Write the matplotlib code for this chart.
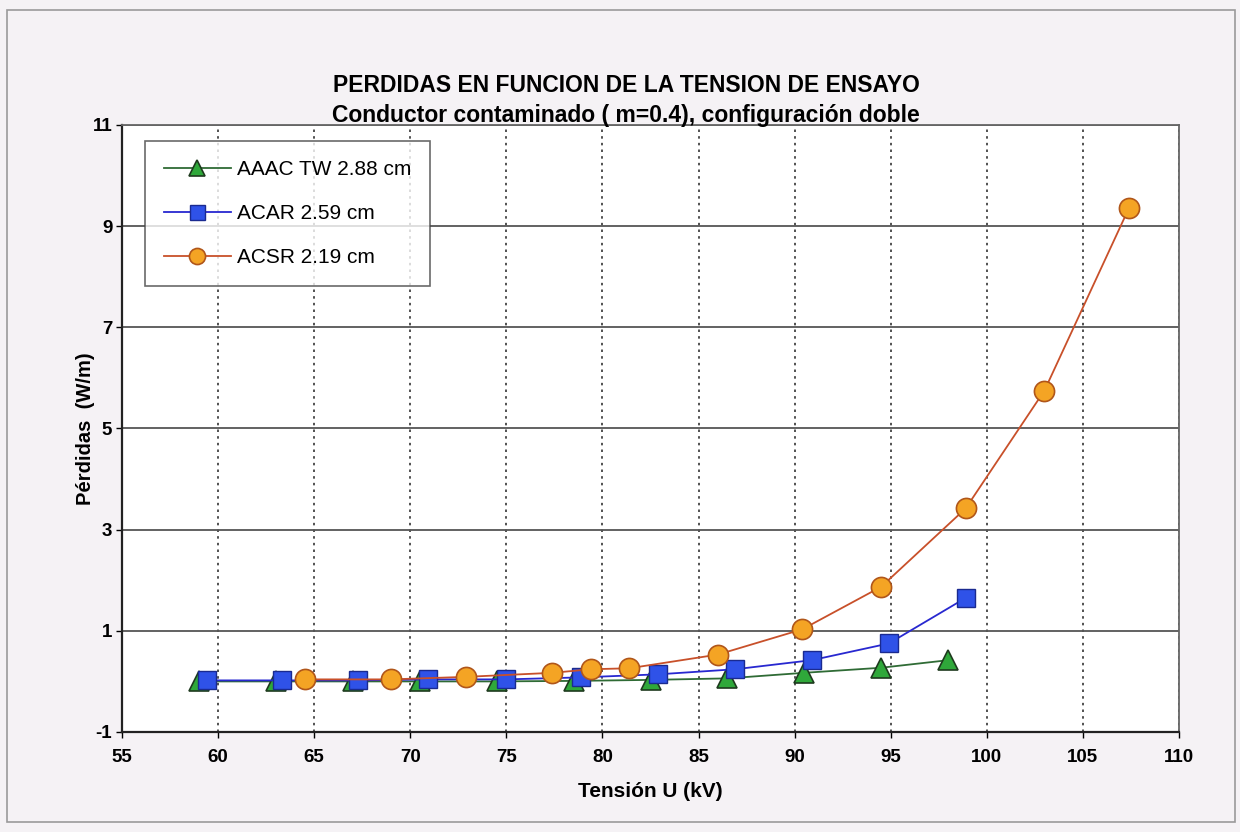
import matplotlib
matplotlib.use("Agg")
import matplotlib.pyplot as plt
from matplotlib.patches import Rectangle

plt.rcParams['font.family'] = ['Liberation Sans', 'DejaVu Sans']
plt.rcParams['axes.unicode_minus'] = False

# Pérdidas (W/m) vs tensión de ensayo (kV)
aaac_u = [59.0, 63.0, 67.0, 70.5, 74.5, 78.5, 82.5, 86.5, 90.5, 94.5, 98.0]
aaac_p = [0.0, 0.0, 0.0, 0.0, 0.0, 0.01, 0.03, 0.06, 0.17, 0.27, 0.42]

acar_u = [59.4, 63.3, 67.3, 70.9, 75.0, 78.9, 82.9, 86.9, 90.9, 94.9, 98.9]
acar_p = [0.02, 0.02, 0.02, 0.04, 0.04, 0.08, 0.14, 0.24, 0.42, 0.75, 1.65]

acsr_u = [64.5, 69.0, 72.9, 77.4, 79.4, 81.4, 86.0, 90.4, 94.5, 98.9, 103.0, 107.4]
acsr_p = [0.04, 0.04, 0.09, 0.17, 0.24, 0.26, 0.53, 1.03, 1.87, 3.42, 5.75, 9.36]

labels = ['AAAC TW 2.88 cm', 'ACAR 2.59 cm', 'ACSR 2.19 cm']
xticks = list(range(55, 111, 5))
yticks = [-1, 1, 3, 5, 7, 9, 11]

fig = plt.figure(figsize=(12.4, 8.32), dpi=100, facecolor='#f5f2f5')
fig.patches.append(Rectangle((0.006, 0.012), 0.99, 0.976, transform=fig.transFigure,
                             fill=False, edgecolor='#9a9a9a', lw=1.2))

ax = fig.add_axes([0.0984, 0.1202, 0.8524, 0.7296])
ax.set_facecolor('white')

ax.plot(aaac_u, aaac_p, color='#2f6b35', lw=1.3, marker='^', ms=15,
        mfc='#2fa83a', mec='#1e3a1e', mew=1.2, label=labels[0], zorder=3)
ax.plot(acar_u, acar_p, color='#2828d0', lw=1.3, marker='s', ms=13.5,
        mfc='#2f52e8', mec='#1a2a90', mew=1.0, label=labels[1], zorder=4)
ax.plot(acsr_u, acsr_p, color='#c8502a', lw=1.3, marker='o', ms=14.5,
        mfc='#f4a424', mec='#b0561a', mew=1.2, label=labels[2], zorder=5)

ax.set_xlim(55, 110)
ax.set_ylim(-1, 11)
ax.set_xticks(xticks)
ax.set_yticks(yticks)
ax.tick_params(direction='out', length=4, width=1, colors='black', labelsize=13.5)
ax.tick_params(axis='x', pad=8)
ax.tick_params(axis='y', pad=3)
for lab in ax.get_xticklabels() + ax.get_yticklabels():
    lab.set_fontweight('bold')

ax.grid(axis='x', color='#333333', linestyle=(0, (1.5, 2.5)), lw=1.2)
ax.grid(axis='y', color='#555555', linestyle='-', lw=1.3)
ax.set_axisbelow(True)

for side in ['left', 'bottom']:
    ax.spines[side].set_color('#222222')
    ax.spines[side].set_linewidth(1.6)
for side in ['top', 'right']:
    ax.spines[side].set_color('#666666')
    ax.spines[side].set_linewidth(1.3)

ax.set_xlabel('Tensión U (kV)', fontsize=15, fontweight='bold', labelpad=12)
ax.set_ylabel('Pérdidas  (W/m)', fontsize=14.5, fontweight='bold')
ax.yaxis.set_label_coords(-0.026, 0.5)

fig.text(0.505, 0.897, 'PERDIDAS EN FUNCION DE LA TENSION DE ENSAYO',
         ha='center', va='center', fontsize=16.5, fontweight='bold')
fig.text(0.505, 0.861, 'Conductor contaminado ( m=0.4), configuración doble',
         ha='center', va='center', fontsize=16.5, fontweight='bold')

leg = ax.legend(loc='upper left', bbox_to_anchor=(0.012, 0.99), fontsize=15,
                frameon=True, fancybox=False, edgecolor='#444444',
                borderpad=0.9, labelspacing=1.2, handlelength=3.2,
                handletextpad=0.3, markerscale=0.8)
leg.get_frame().set_linewidth(1.2)
leg.get_frame().set_facecolor('white')

fig.savefig('out.png', dpi=100, facecolor=fig.get_facecolor())
